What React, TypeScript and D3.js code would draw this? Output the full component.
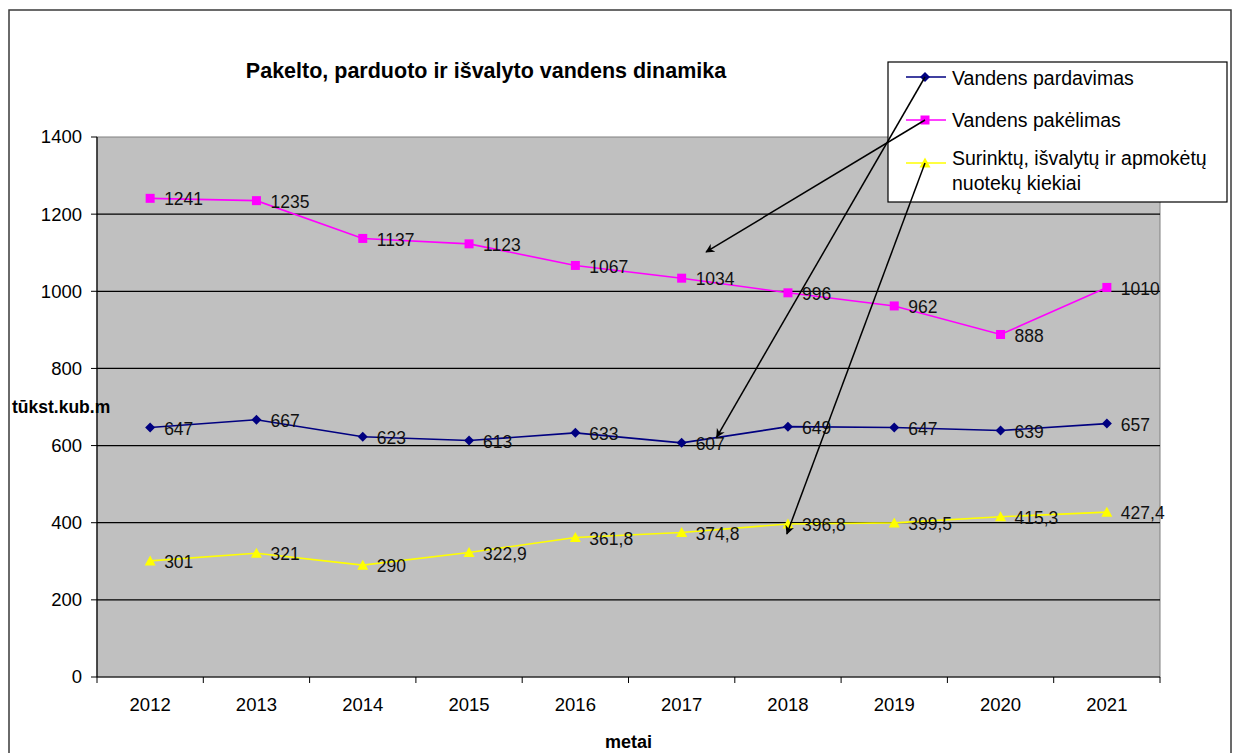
import React from "react";
import * as d3 from "d3";

const years = ["2012","2013","2014","2015","2016","2017","2018","2019","2020","2021"];
const pardavimas = [647,667,623,613,633,607,649,647,639,657];
const pakelimas = [1241,1235,1137,1123,1067,1034,996,962,888,1010];
const nuotekos = [301,321,290,322.9,361.8,374.8,396.8,399.5,415.3,427.4];
const yTicks = [0,200,400,600,800,1000,1200,1400];

const titleText = "Pakelto, parduoto ir išvalyto vandens dinamika";
const yLabel = "tūkst.kub.m";
const xLabel = "metai";
const legendLabels = [["Vandens pardavimas"],["Vandens pakėlimas"],["Surinktų, išvalytų ir apmokėtų","nuotekų kiekiai"]];
// arrow tips: position in category units (0 = left edge of plot) and value on y axis
const arrowTips = [
  { series: 0, pos: 5.83, value: 622 },
  { series: 1, pos: 5.73, value: 1102 },
  { series: 2, pos: 6.49, value: 371 },
];

const FONT = "'Liberation Sans', Arial, sans-serif";
const colors = ["#000080", "#ff00ff", "#ffff00"];

const fmt = (v: number) => String(v).replace(".", ",");

function Marker({ kind, x, y, color }: { kind: number; x: number; y: number; color: string }) {
  if (kind === 0) {
    const s = 5;
    return <path d={`M${x},${y - s}L${x + s},${y}L${x},${y + s}L${x - s},${y}Z`} fill={color} />;
  }
  if (kind === 1) {
    return <rect x={x - 4.5} y={y - 4.5} width={9} height={9} fill={color} />;
  }
  return <path d={`M${x},${y - 5.5}L${x + 5.5},${y + 4.5}L${x - 5.5},${y + 4.5}Z`} fill={color} />;
}

export default function App() {
  const W = 1233, H = 753;
  const left = 97, right = 1160, top = 137, bottom = 677;
  const x = d3.scaleBand<string>().domain(years).range([left, right]).padding(0);
  const xPos = d3.scaleLinear().domain([0, years.length]).range([left, right]);
  const y = d3.scaleLinear().domain([0, 1400]).range([bottom, top]);
  const cx = (i: number) => (x(years[i]) as number) + x.bandwidth() / 2;
  const series = [pardavimas, pakelimas, nuotekos];
  const line = d3.line<number>().x((_, i) => cx(i)).y((v) => y(v));

  const legX = 888, legY = 62, legW = 339, legH = 140;
  const legRowY = [77, 120, 163];
  const legTextY = [[78], [120], [158, 183]];
  const legMarkX = 925;

  return (
    <svg width={W} height={H} style={{ position: "absolute", left: 0, top: 0, background: "#fff" }} fontFamily={FONT}>
      <defs>
        <marker id="arr" viewBox="0 0 10 10" refX="9" refY="5" markerWidth="9" markerHeight="9" orient="auto" markerUnits="userSpaceOnUse">
          <path d="M0,0L10,5L0,10L3,5Z" fill="#000" />
        </marker>
      </defs>
      <rect x={9} y={10} width={1222} height={760} fill="#fff" stroke="#3a3a3a" strokeWidth={1.5} />
      <text x={486} y={70} dy="0.35em" textAnchor="middle" fontWeight="bold" fontSize={21.5}>{titleText}</text>

      <rect x={left} y={top} width={right - left} height={bottom - top} fill="#c0c0c0" stroke="#808080" strokeWidth={1} />
      {yTicks.filter((t) => t > 0 && t < 1400).map((t) => (
        <line key={t} x1={left} x2={right} y1={y(t)} y2={y(t)} stroke="#000" strokeWidth={1.2} />
      ))}
      <line x1={left} x2={left} y1={top} y2={bottom} stroke="#000" strokeWidth={1.2} />
      <line x1={left} x2={right} y1={bottom} y2={bottom} stroke="#000" strokeWidth={1.2} />
      {yTicks.map((t) => (
        <g key={t}>
          <line x1={left - 6} x2={left} y1={y(t)} y2={y(t)} stroke="#000" />
          <text x={82} y={y(t)} dy="0.35em" textAnchor="end" fontSize={18.5}>{t}</text>
        </g>
      ))}
      {d3.range(years.length + 1).map((i) => (
        <line key={i} x1={xPos(i)} x2={xPos(i)} y1={bottom} y2={bottom + 6} stroke="#000" />
      ))}
      {years.map((yr, i) => (
        <text key={yr} x={cx(i)} y={705} dy="0.35em" textAnchor="middle" fontSize={18.5}>{yr}</text>
      ))}
      <text x={(left + right) / 2} y={742} dy="0.35em" textAnchor="middle" fontWeight="bold" fontSize={18}>{xLabel}</text>
      <text x={12} y={407} dy="0.35em" fontWeight="bold" fontSize={17.5}>{yLabel}</text>

      {series.map((s, k) => (
        <g key={k}>
          <path d={line(s) as string} fill="none" stroke={colors[k]} strokeWidth={1.6} />
          {s.map((v, i) => (
            <Marker key={i} kind={k} x={cx(i)} y={y(v)} color={colors[k]} />
          ))}
          {s.map((v, i) => (
            <text key={"t" + i} x={cx(i) + 14} y={y(v) + 1} dy="0.35em" fontSize={17.5} fill="#111">{fmt(v)}</text>
          ))}
        </g>
      ))}

      <rect x={legX} y={legY} width={legW} height={legH} fill="#fff" stroke="#000" strokeWidth={1.2} />
      {legendLabels.map((lines, k) => (
        <g key={k}>
          <line x1={906} x2={946} y1={legRowY[k]} y2={legRowY[k]} stroke={colors[k]} strokeWidth={1.6} />
          <Marker kind={k} x={legMarkX} y={legRowY[k]} color={colors[k]} />
          {lines.map((ln, j) => (
            <text key={j} x={952} y={legTextY[k][j]} dy="0.35em" fontSize={19.5}>{ln}</text>
          ))}
        </g>
      ))}

      {arrowTips.map((a, i) => (
        <line key={i} x1={legMarkX} y1={legRowY[a.series]} x2={xPos(a.pos)} y2={y(a.value)} stroke="#000" strokeWidth={1.5} markerEnd="url(#arr)" />
      ))}
    </svg>
  );
}
